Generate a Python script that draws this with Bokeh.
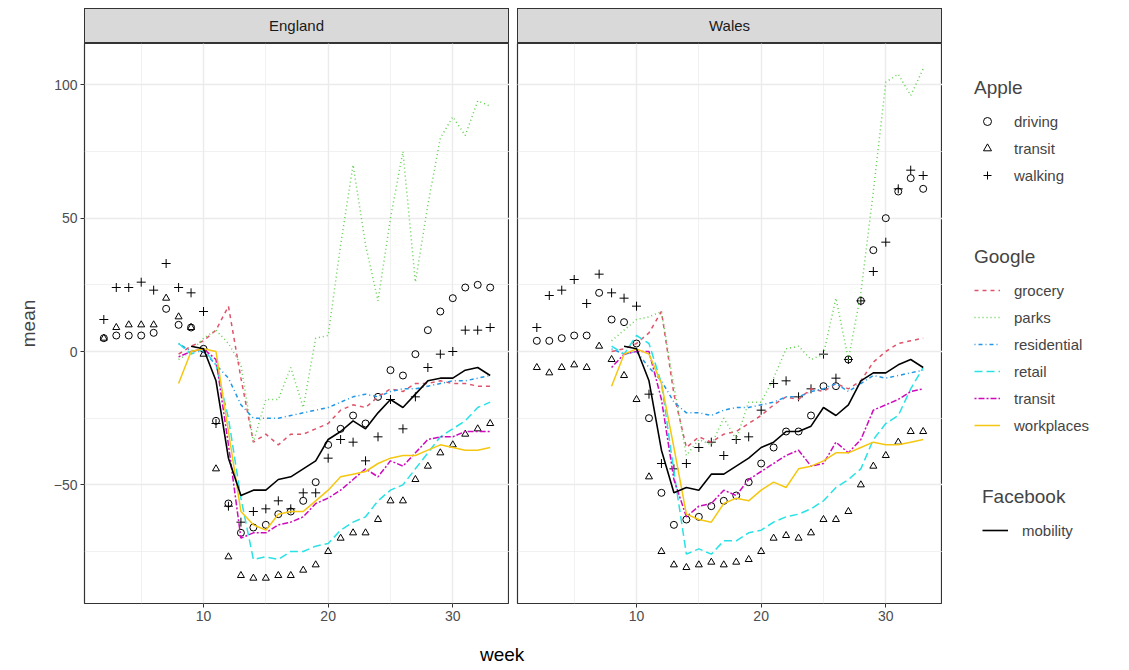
from bokeh.plotting import figure
from bokeh.layouts import row, column
from bokeh.models import Range1d, SingleIntervalTicker, Legend, LegendItem, Div, ColumnDataSource
from bokeh.embed import file_html
from bokeh.resources import INLINE

weeks_apple = list(range(2, 34))
weeks_google = list(range(8, 34))
weeks_fb = list(range(9, 34))

eng_driving = [5, 6, 6, 6, 7, 16, 10, 9, 1, -26, -57, -68, -66, -65, -61, -60, -56, -49, -35, -29, -24, -27, -17, -7, -9, -1, 8, 15, 20, 24, 25, 24]
eng_transit_a = [5, 9, 10, 10, 10, 20, 13, 9, -1, -44, -77, -84, -85, -85, -84, -84, -82, -80, -75, -70, -68, -68, -63, -56, -56, -48, -43, -38, -35, -31, -29, -27]
eng_walking = [12, 24, 24, 26, 23, 33, 24, 22, 15, -27, -58, -64, -60, -59, -56, -59, -53, -53, -40, -33, -34, -41, -32, -18, -29, -17, -6, -1, 0, 8, 8, 9]

eng_grocery = [-1, 2, 4, 8, 17, -10, -34, -31, -35, -31, -31, -29, -27, -22, -20, -21, -17, -14, -15, -12, -12, -11, -12, -12, -13, -13]
eng_parks = [-3, 0, 5, 8, 3, -5, -34, -18, -18, -6, -21, 5, 6, 40, 70, 40, 19, 50, 75, 26, 55, 80, 88, 81, 94, 92]
eng_residential = [3, 0, 0, -5, -10, -20, -25, -25, -25, -24, -23, -22, -21, -19, -17, -16, -17, -15, -14, -14, -13, -12, -11, -11, -10, -9]
eng_retail = [3, -1, 1, -5, -25, -55, -78, -77, -78, -75, -75, -73, -72, -67, -64, -62, -56, -52, -50, -44, -38, -32, -29, -26, -21, -19]
eng_transit_g = [-2, 0, 1, -3, -35, -70, -68, -68, -65, -64, -62, -57, -55, -52, -48, -44, -47, -41, -43, -38, -33, -32, -32, -30, -30, -30]
eng_workplaces = [-12, 0, 1, 0, -30, -60, -65, -67, -61, -60, -60, -56, -52, -47, -46, -45, -42, -40, -39, -39, -37, -35, -36, -37, -37, -36]
eng_mobility = [2, 1, -11, -40, -54, -52, -52, -48, -47, -44, -41, -33, -30, -26, -29, -23, -18, -21, -16, -11, -10, -10, -7, -6, -9]

wal_driving = [4, 4, 5, 6, 6, 22, 12, 11, 3, -25, -53, -65, -63, -62, -58, -56, -54, -49, -42, -36, -30, -30, -24, -13, -13, -3, 19, 38, 50, 60, 65, 61]
wal_transit_a = [-6, -8, -6, -5, -6, 2, -3, -9, -18, -47, -75, -80, -81, -80, -79, -80, -79, -78, -75, -70, -69, -70, -68, -63, -63, -60, -50, -43, -39, -34, -30, -30]
wal_walking = [9, 21, 23, 27, 18, 29, 22, 20, 17, -16, -42, -44, -42, -36, -34, -39, -33, -32, -22, -12, -11, -17, -14, -1, -10, -3, 19, 30, 41, 61, 68, 66]

wal_grocery = [0, 1, 3, 7, 15, -16, -36, -32, -34, -31, -30, -27, -24, -20, -17, -18, -14, -15, -12, -14, -11, -4, 0, 3, 4, 5]
wal_parks = [4, 8, 12, 13, 15, -13, -39, -33, -35, -25, -33, -19, -19, -10, 1, 2, -3, -1, 20, -3, 22, 60, 101, 104, 96, 106]
wal_residential = [1, -1, 0, -6, -11, -19, -23, -23, -24, -22, -21, -21, -20, -19, -17, -17, -15, -14, -12, -15, -12, -9, -10, -9, -8, -7]
wal_retail = [2, -1, 6, 3, -12, -45, -76, -74, -76, -71, -71, -68, -67, -64, -62, -61, -59, -56, -51, -48, -44, -33, -27, -24, -14, -6]
wal_transit_g = [-6, -1, 0, 0, -18, -48, -62, -58, -57, -52, -54, -48, -45, -42, -39, -37, -43, -42, -34, -38, -33, -22, -20, -18, -15, -14]
wal_workplaces = [-13, -1, 1, -1, -12, -36, -61, -63, -64, -57, -55, -56, -52, -49, -51, -44, -43, -41, -38, -38, -36, -34, -35, -35, -34, -33]
wal_mobility = [2, 1, -11, -37, -53, -51, -52, -46, -46, -43, -40, -36, -34, -30, -30, -28, -21, -24, -20, -11, -8, -8, -5, -3, -6]

google_names = ["grocery", "parks", "residential", "retail", "transit", "workplaces"]
google_colors = ["#DF536B", "#61D04F", "#2297E6", "#28E2E5", "#CD0BBC", "#F5C710"]
google_dashes = ["4 4", "1 3", "1 3 4 3", "8 4", "2 2 6 2", "solid"]
apple_names = ["driving", "transit", "walking"]
apple_markers = ["circle", "triangle", "cross"]

data = {
    "England": ([eng_driving, eng_transit_a, eng_walking],
                [eng_grocery, eng_parks, eng_residential, eng_retail, eng_transit_g, eng_workplaces],
                eng_mobility),
    "Wales": ([wal_driving, wal_transit_a, wal_walking],
              [wal_grocery, wal_parks, wal_residential, wal_retail, wal_transit_g, wal_workplaces],
              wal_mobility),
}

FONT = "Liberation Sans"
FW, FH = 425, 560

def panel(name, first):
    p = figure(frame_width=FW, frame_height=FH, output_backend="svg", toolbar_location=None,
               x_range=Range1d(0.45, 34.55), y_range=Range1d(-94.5, 115.5),
               min_border_left=84 if first else 8, min_border_right=0,
               min_border_bottom=30, min_border_top=0)
    p.outline_line_color = "#333333"
    p.outline_line_width = 1.2
    p.xaxis.ticker = SingleIntervalTicker(interval=10, num_minor_ticks=2)
    p.yaxis.ticker = SingleIntervalTicker(interval=50, num_minor_ticks=2)
    for g in (p.xgrid, p.ygrid):
        g.grid_line_color = "#ebebeb"
        g.grid_line_width = 1.4
        g.minor_grid_line_color = "#ebebeb"
        g.minor_grid_line_width = 0.7
    for ax in (p.xaxis, p.yaxis):
        ax.axis_line_color = None
        ax.minor_tick_line_color = None
        ax.major_tick_line_color = "#333333"
        ax.major_tick_out = 4
        ax.major_tick_in = 0
        ax.major_label_text_font = FONT
        ax.major_label_text_font_size = "14px"
        ax.major_label_text_color = "#4d4d4d"
        ax.major_label_standoff = 3
    p.yaxis.major_label_overrides = {-50: "\u221250"}
    if first:
        p.yaxis.axis_label = "mean"
        p.yaxis.axis_label_text_font = FONT
        p.yaxis.axis_label_text_font_size = "19px"
        p.yaxis.axis_label_text_font_style = "normal"
        p.yaxis.axis_label_standoff = 12
    else:
        p.yaxis.visible = False
    apple, google, fb = data[name]
    for vals, m in zip(apple, apple_markers):
        p.scatter(weeks_apple, vals, marker=m, size=7 if m != "cross" else 9,
                  fill_color=None, line_color="black", line_width=1)
    for vals, c, d in zip(google, google_colors, google_dashes):
        p.line(weeks_google, vals, line_color=c, line_dash=d, line_width=1.5)
    p.line(weeks_fb, fb, line_color="black", line_width=1.6)
    strip = Div(text=name, width=FW - 2, height=33,
                margin=(8, 0, 0, 84 if first else 8),
                styles={"background-color": "#d9d9d9", "border": "1.2px solid #333333",
                        "text-align": "center", "font-family": FONT, "font-size": "15px",
                        "color": "#1a1a1a", "line-height": "33px", "box-sizing": "content-box"})
    return column(strip, p, spacing=0)

pe = panel("England", True)
pw = panel("Wales", False)

lg = figure(frame_width=178, frame_height=FH, output_backend="svg", toolbar_location=None,
            x_range=Range1d(0, 1), y_range=Range1d(0, 1), min_border_left=0, min_border_right=0,
            min_border_bottom=30, min_border_top=43)
lg.outline_line_color = None
lg.axis.visible = False
lg.grid.visible = False

def mk_legend(title, items, loc):
    L = Legend(items=items, location=loc, title=title, border_line_color=None,
               background_fill_alpha=0, padding=0, margin=0, spacing=7,
               label_text_font=FONT, label_text_font_size="15px",
               title_text_font=FONT, title_text_font_size="19px", title_text_font_style="normal",
               title_standoff=12, glyph_width=26, glyph_height=20, label_height=20, label_standoff=14)
    lg.add_layout(L, "center")

dummy = ColumnDataSource(dict(x=[-5], y=[-5]))
a_items = []
for n, m in zip(apple_names, apple_markers):
    r = lg.scatter("x", "y", source=dummy, marker=m, size=7 if m != "cross" else 9,
                   fill_color=None, line_color="black")
    a_items.append(LegendItem(label=n, renderers=[r]))
g_items = []
for n, c, d in zip(google_names, google_colors, google_dashes):
    r = lg.line("x", "y", source=dummy, line_color=c, line_dash=d, line_width=1.5)
    g_items.append(LegendItem(label=n, renderers=[r]))
r = lg.line("x", "y", source=dummy, line_color="black", line_width=1.6)
f_items = [LegendItem(label="mobility", renderers=[r])]

mk_legend("Apple", a_items, (32, 418))
mk_legend("Google", g_items, (32, 168))
mk_legend("Facebook", f_items, (40, 63))

week = Div(text="week", margin=(8, 0, 0, 480),
           styles={"font-family": FONT, "font-size": "19px", "color": "#000"})

layout = column(row(pe, pw, lg, spacing=0), week, spacing=0)
open("out.html", "w").write(file_html(layout, INLINE))
